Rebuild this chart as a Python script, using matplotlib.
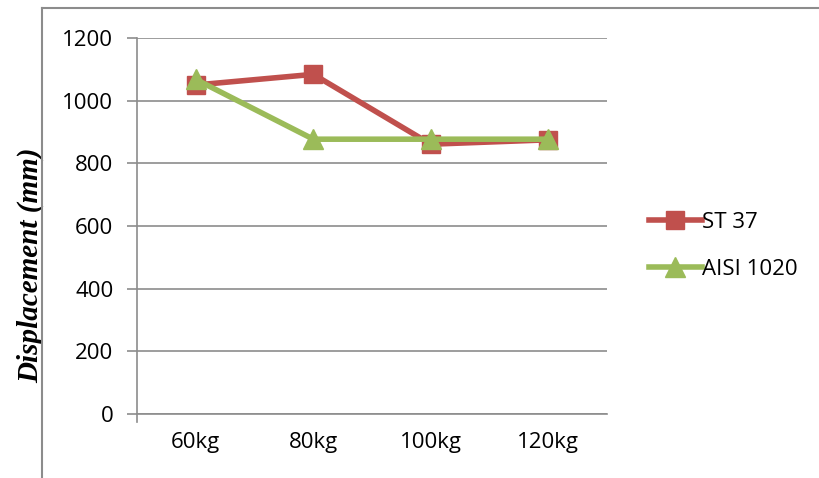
import matplotlib
matplotlib.use("Agg")
import matplotlib.pyplot as plt
from matplotlib.lines import Line2D

# Data
loads = ["60kg", "80kg", "100kg", "120kg"]
st37 = [1050, 1084, 861, 875]
aisi1020 = [1068, 877, 877, 877]
yticks = [0, 200, 400, 600, 800, 1000, 1200]

plt.rcParams['font.family'] = ['Open Sans', 'DejaVu Sans']

fig = plt.figure(figsize=(8.19, 4.78), dpi=100)
ax = fig.add_axes([0.1673, 0.134, 0.574, 0.7865])

x = range(len(loads))
ax.plot(x, st37, color="#c0504d", linewidth=4, marker="s", markersize=13,
        label="ST 37", zorder=3)
ax.plot(x, aisi1020, color="#9bbb59", linewidth=4, marker="^", markersize=14,
        label="AISI 1020", zorder=4)

ax.set_xlim(-0.5, len(loads) - 0.5)
ax.set_ylim(0, 1200)
ax.set_yticks(yticks)
ax.set_xticks(list(x))
ax.set_xticklabels(loads, fontsize=16)
ax.tick_params(axis='y', labelsize=16, length=7, color="#8c8c8c", width=1.2, pad=10)
ax.tick_params(axis='x', length=0, pad=13)

ax.grid(axis='y', color="#8c8c8c", linewidth=1.2)
ax.set_axisbelow(True)
for s in ['top', 'right']:
    ax.spines[s].set_visible(False)
ax.spines['left'].set_color("#8c8c8c")
ax.spines['left'].set_linewidth(1.2)
ax.spines['left'].set_bounds(-25, 1200)
ax.spines['bottom'].set_color("#8c8c8c")
ax.spines['bottom'].set_linewidth(1.2)

ax.set_ylabel("Displacement (mm)", fontsize=21, family="Liberation Serif",
              fontweight="bold", fontstyle="italic")
ax.yaxis.set_label_coords(-0.197, 0.396)

ax.legend(loc="center left", bbox_to_anchor=(1.055, 0.447), frameon=False,
          fontsize=16, handlelength=2.4, handletextpad=0.0, labelspacing=1.15,
          borderpad=0.2)

# outer chart border (partly cropped)
fig.add_artist(Line2D([42 / 819, 42 / 819], [0, 1 - 8 / 478], color="#8c8c8c", linewidth=1.5))
fig.add_artist(Line2D([42 / 819, 1], [1 - 8 / 478, 1 - 8 / 478], color="#8c8c8c", linewidth=1.5))

fig.savefig("out.png", dpi=100)
